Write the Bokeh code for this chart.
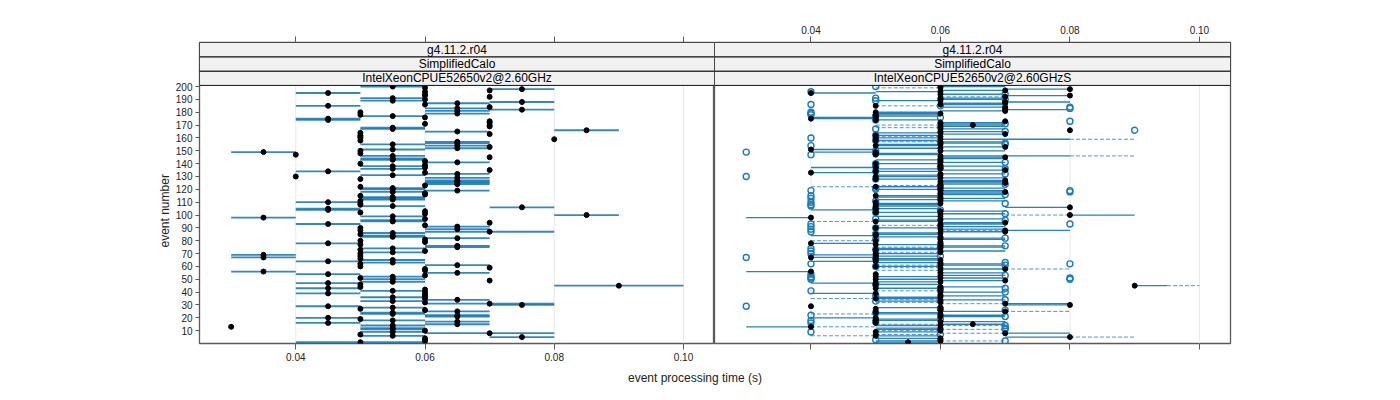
import math
from bokeh.plotting import figure
from bokeh.models import FixedTicker, LinearAxis, Range1d, Title, Div, CustomJSTickFormatter, PrintfTickFormatter
from bokeh.layouts import row, column
from bokeh.embed import file_html
from bokeh.resources import INLINE
from bokeh.core.properties import value

# ---------------- data ----------------
events = list(range(1, 201))

# left panel: mean (point) and min..max (line), in ms
left_mean_ms = [50,60,60,60,75,55,50,70,55,60, 55,55,30,55,65,45,65,55,50,45,
                65,65,55,55,65,60,50,55,45,75, 70,60,55,65,60,55,60,60,45,60,
                55,60,45,50,90,50,45,55,70,55, 50,55,60,45,65,35,60,60,70,50,
                65,50,55,45,55,50,35,50,35,50, 55,60,50,55,65,65,50,45,60,50,
                60,65,55,55,50,55,70,50,65,50, 65,60,45,70,55,55,60,35,55,85,
                60,50,60,45,45,75,55,50,50,45, 50,55,55,55,50,60,60,55,65,55,
                55,50,60,65,65,65,65,50,65,40, 55,65,60,45,70,55,60,55,60,50,
                65,60,55,55,70,55,40,50,35,50, 55,65,70,65,55,65,65,50,80,50,
                50,50,70,50,65,85,55,55,70,70, 60,70,70,45,45,60,55,50,65,50,
                65,75,65,70,45,60,65,75,55,60, 55,70,60,60,45,60,70,75,60,55]
left_lo_ms = [40,60,60,60,70,50,50,60,50,60, 50,50,30,50,60,40,60,50,50,40,
              60,60,50,50,60,60,50,50,40,70, 60,60,50,60,60,50,60,60,40,60,
              50,60,40,50,80,50,40,50,70,50, 50,50,60,40,60,30,60,60,70,50,
              60,50,50,40,50,50,30,50,30,50, 50,60,50,50,60,60,50,40,60,50,
              60,60,50,50,50,50,60,50,60,50, 60,60,40,70,50,50,60,30,50,80,
              60,50,60,40,40,70,50,50,50,40, 50,50,50,50,50,60,60,50,60,50,
              50,50,60,60,60,60,60,50,60,40, 50,60,60,40,70,50,60,50,60,50,
              60,60,50,50,70,50,40,50,30,50, 50,60,70,60,50,60,60,50,80,50,
              50,50,70,50,60,80,50,50,70,70, 60,70,70,40,40,60,50,50,60,50,
              60,70,60,70,40,60,60,70,50,60, 50,70,60,60,40,60,70,70,60,50]
left_hi_ms = [60,60,60,60,80,60,50,80,60,60, 60,60,30,60,70,50,70,60,50,50,
              70,70,60,60,70,60,50,60,50,80, 80,60,60,70,60,60,60,60,50,60,
              60,60,50,50,100,50,50,60,70,60, 50,60,60,50,70,40,60,60,70,50,
              70,50,60,50,60,50,40,50,40,50, 60,60,50,60,70,70,50,50,60,50,
              60,70,60,60,50,60,80,50,70,50, 70,60,50,70,60,60,60,40,60,90,
              60,50,60,50,50,80,60,50,50,50, 50,60,60,60,50,60,60,60,70,60,
              60,50,60,70,70,70,70,50,70,40, 60,70,60,50,70,60,60,60,60,50,
              70,60,60,60,70,60,40,50,40,50, 60,70,70,70,60,70,70,50,80,50,
              50,50,70,50,70,90,60,60,70,70, 60,70,70,50,50,60,60,50,70,50,
              70,80,70,70,50,60,70,80,60,60, 60,70,60,60,50,60,70,80,60,60]

# right panel: median (point), box q1..q3 (solid), whiskers lo..hi (dashed), other runs (open)
right_med_ms = [55,60,60,60,80,50,50,70,50,60, 60,60,40,60,65,50,60,50,50,50,
                60,60,60,50,70,60,50,60,40,80, 70,60,60,60,50,60,60,60,50,60,
                60,60,50,60,90,50,50,60,70,50, 60,50,60,50,60,40,60,70,60,50,
                60,60,60,50,60,50,40,50,50,50, 60,60,50,60,60,60,50,40,60,50,
                60,60,60,50,50,60,70,70,60,50, 60,60,60,70,50,60,60,40,60,80,
                60,50,60,50,50,80,50,50,60,50, 60,60,60,60,50,60,60,70,60,60,
                60,50,60,60,70,60,70,50,60,50, 60,60,40,50,70,60,50,60,60,50,
                60,60,60,60,70,60,50,50,50,60, 40,60,70,50,60,60,60,50,60,50,
                60,50,70,60,60,80,60,60,60,65, 60,60,70,50,40,50,50,50,60,50,
                70,70,70,70,50,60,70,70,60,60, 60,70,80,60,40,60,70,80,60,60]
right_q1_ms = [50,50,60,50,70,50,50,70,50,60, 50,50,30,50,60,50,60,50,50,40,
               60,60,50,50,60,60,50,50,40,70, 70,60,50,60,50,50,60,60,40,60,
               60,60,50,60,90,50,40,50,60,50, 60,50,60,50,60,30,60,60,60,50,
               60,60,50,40,50,50,40,50,40,50, 60,60,50,50,60,60,50,40,60,50,
               60,60,50,40,50,50,60,70,60,50, 60,60,60,60,50,50,60,30,50,80,
               60,50,60,40,50,70,50,50,50,50, 60,50,60,50,50,60,60,60,60,50,
               60,50,60,60,60,60,60,50,60,50, 50,60,40,50,60,50,40,60,60,50,
               60,60,50,60,60,60,50,50,40,60, 40,50,60,50,50,60,60,50,60,50,
               60,50,60,50,60,80,60,60,60,60, 60,60,70,50,40,40,50,50,50,50,
               60,70,70,60,50,60,60,70,50,60, 60,70,70,60,40,50,60,70,60,60]
right_q3_ms = [60,60,60,60,80,60,50,80,60,60, 60,60,40,60,70,50,70,60,60,50,
               70,70,60,60,70,60,50,60,40,80, 80,60,60,70,60,60,70,60,50,70,
               60,60,60,70,95,60,50,60,70,60, 70,60,70,50,70,40,60,70,60,60,
               70,70,60,50,60,60,50,60,50,60, 60,70,60,60,70,70,60,50,60,50,
               70,70,60,50,60,60,70,80,70,60, 70,60,70,70,60,60,70,40,60,90,
               70,60,70,50,60,80,60,60,60,50, 70,60,70,60,60,70,70,70,70,60,
               70,60,60,70,70,70,70,60,70,60, 60,70,50,60,70,60,50,70,60,60,
               70,60,60,70,70,80,60,60,50,70, 50,60,70,60,60,70,70,60,80,60,
               60,60,70,60,70,80,70,60,70,70, 70,70,70,60,50,50,60,60,60,60,
               70,80,70,70,50,70,70,80,60,70, 70,70,80,70,50,60,70,80,60,70]
right_lo_ms = [50,50,60,50,70,40,50,60,50,50, 50,50,30,50,50,50,60,50,50,40,
               60,60,40,50,60,60,50,50,40,70, 60,50,50,50,40,50,60,60,40,60,
               50,60,50,60,90,50,40,50,60,50, 60,50,60,50,60,30,50,60,50,50,
               50,60,50,40,50,50,40,50,40,50, 50,60,50,50,50,60,50,40,60,40,
               60,60,50,40,50,50,60,60,60,50, 60,50,60,60,40,50,60,30,50,70,
               60,50,60,40,50,70,50,50,50,50, 60,50,60,50,50,60,60,60,60,50,
               60,40,50,60,60,60,60,50,60,50, 50,60,40,50,60,50,40,60,60,50,
               60,60,50,60,60,60,50,50,40,60, 40,50,60,50,50,60,50,50,60,50,
               50,50,60,50,60,80,60,50,60,50, 60,60,70,50,40,40,50,50,50,50,
               60,70,70,60,50,60,60,70,50,60, 60,60,70,60,40,50,60,70,50,60]
right_hi_ms = [60,70,60,60,90,60,60,80,60,60, 70,60,50,70,70,50,70,60,60,50,
               70,70,60,60,80,60,50,60,40,80, 80,60,60,70,60,60,70,60,50,70,
               60,60,60,70,100,60,50,60,70,60, 70,60,70,50,70,40,60,80,60,60,
               70,70,60,50,60,60,50,60,50,60, 60,70,60,60,70,70,60,50,60,50,
               70,70,60,50,60,60,70,80,70,60, 70,60,70,70,60,60,70,40,60,90,
               70,60,70,50,60,80,60,60,60,50, 70,60,70,60,60,70,70,70,70,60,
               70,60,60,70,70,70,70,60,70,60, 60,70,50,60,70,60,50,70,60,60,
               70,60,60,70,70,90,60,60,50,70, 50,60,70,60,60,70,70,60,90,60,
               60,60,70,60,70,80,70,60,70,70, 70,70,70,60,50,50,60,60,60,60,
               70,80,70,70,60,70,70,80,60,70, 70,70,80,70,50,60,70,80,60,70]
right_out_event = [9,16,18,22,26,29,41,50,50,51,51,52,54,62,62,67,70,72,74,87,89,91,93,93,
                   107,108,110,113,115,118,119,119,130,147,149,154,160,166,173,178,179,180,
                   183,184,186,196,
                   17,37,81,97,111,121,138,150,167,191,200,
                   3,24,33,46,60,66,73,85,90,102,105,120,128,134,140,148,158,162,174,177,189,
                   12,43,63,96,109,136,155,
                   2,11,14,21,34,40,53,61,76,82,101,116,124,132,141,156,165,171,190,194,
                   7,19,27,43,68,77,104,122,137,176,185]
right_out_ms = [40,40,40,40,70,30,40,40,80,40,80,40,40,40,80,30,40,40,40,40,40,40,40,80,
                40,40,40,40,40,80,40,80,30,40,30,40,40,90,80,40,40,40,
                80,80,40,40,
                50,50,50,50,50,50,50,50,50,50,50,
                50,50,50,50,50,50,50,50,50,50,50,50,50,50,50,50,50,50,50,50,50,
                70,70,70,70,70,70,70,
                70,70,70,70,70,70,70,70,70,70,70,70,70,70,70,70,70,70,70,70,
                60,60,60,60,60,60,60,60,60,60,60]

strip_rows = ["IntelXeonCPUE52650v2@2.60GHz", "SimplifiedCalo", "g4.11.2.r04"]
strip_rows_right = ["IntelXeonCPUE52650v2@2.60GHzS", "SimplifiedCalo", "g4.11.2.r04"]
x_ticks = [0.04, 0.06, 0.08, 0.10]
y_ticks = list(range(10, 201, 10))

# ---------------- styling ----------------
FONT = "Liberation Sans"
X0, X1 = 0.0251, 0.1048
Y_DATA_TOP = 200.9
Y_TOP = 234.3
STRIP_H = (Y_TOP - Y_DATA_TOP) / 3
LINE_COL = "#0e73b5"
DASH_COL = "#4a98d0"
FRAME_COL = "#5a5a5a"
FIG_H = 368

def ms(v):
    return [a / 1000.0 for a in v]

def base_figure(width, bl, br):
    p = figure(width=width, height=FIG_H, x_range=Range1d(X0, X1), y_range=Range1d(0, Y_TOP),
               output_backend="svg", toolbar_location=None,
               min_border_left=bl, min_border_right=br, min_border_top=42,
               min_border_bottom=FIG_H - 343,
               x_axis_location=None, y_axis_location=None)
    p.outline_line_color = FRAME_COL
    p.outline_line_width = 1.3
    p.background_fill_color = "white"
    p.border_fill_color = "white"
    p.ygrid.grid_line_color = None
    p.xgrid.grid_line_color = None
    return p

def style_axis(ax, labels=True):
    ax.ticker = FixedTicker(ticks=x_ticks)
    ax.axis_line_color = None
    ax.major_tick_line_color = FRAME_COL
    ax.major_tick_out = 6
    ax.major_tick_in = 0
    ax.minor_tick_line_color = None
    ax.major_label_text_font = FONT
    ax.major_label_text_font_size = "10px"
    ax.major_label_text_color = "#222222"
    ax.major_label_standoff = 3
    if labels:
        ax.formatter = PrintfTickFormatter(format="%.2f")
    else:
        ax.formatter = CustomJSTickFormatter(code="return ''")

def add_grid(p):
    p.segment(x0=x_ticks, x1=x_ticks, y0=[0] * 4, y1=[Y_DATA_TOP] * 4,
              line_color="#e8e8e8", line_width=1, level="underlay")

def add_strips(p, texts):
    bottoms = [Y_DATA_TOP + i * STRIP_H for i in range(3)]
    tops = [b + STRIP_H for b in bottoms]
    p.quad(left=X0, right=X1, bottom=bottoms, top=tops,
           fill_color="#f1f1f1", line_color="#111111", line_width=1)
    p.text(x=[(X0 + X1) / 2] * 3, y=[b + STRIP_H / 2 for b in bottoms], text=texts,
           text_align="center", text_baseline="middle", text_font=value(FONT),
           text_font_size="12px", text_color="black")

# ---------------- left panel ----------------
pl = base_figure(714, 199, 0)
add_grid(pl)
ax_b = LinearAxis(); style_axis(ax_b, True); pl.add_layout(ax_b, "below")
ax_t = LinearAxis(); style_axis(ax_t, False); pl.add_layout(ax_t, "above")
ay = LinearAxis(ticker=FixedTicker(ticks=y_ticks))
ay.axis_line_color = None
ay.major_tick_line_color = FRAME_COL
ay.major_tick_out = 4
ay.major_tick_in = 0
ay.minor_tick_line_color = None
ay.major_label_text_font = FONT
ay.major_label_text_font_size = "10px"
ay.major_label_text_color = "#222222"
ay.major_label_standoff = 3
pl.add_layout(ay, "left")
pl.add_layout(Title(text="event number", align="left", offset=96,
                    text_font=FONT, text_font_size="12px", text_font_style="normal",
                    text_color="#222222", standoff=2), "left")

lx0, lx1, ly = [], [], []
for e, lo, hi in zip(events, left_lo_ms, left_hi_ms):
    if hi > lo:
        lx0.append(lo / 1000); lx1.append(hi / 1000); ly.append(e)
pl.segment(x0=lx0, x1=lx1, y0=ly, y1=ly, line_color=LINE_COL, line_width=1.8, line_alpha=0.85)
pl.scatter(x=ms(left_mean_ms), y=events, size=5, fill_color="black", line_color="black")
add_strips(pl, strip_rows)

# ---------------- right panel ----------------
pr = base_figure(686, 0, 170)
add_grid(pr)
bx_t = LinearAxis(); style_axis(bx_t, True); pr.add_layout(bx_t, "above")
bx_b = LinearAxis(); style_axis(bx_b, False); pr.add_layout(bx_b, "below")

sx0, sx1, sy = [], [], []
dx0, dx1, dy = [], [], []
for e, q1, q3, lo, hi in zip(events, right_q1_ms, right_q3_ms, right_lo_ms, right_hi_ms):
    if q3 > q1:
        sx0.append(q1 / 1000); sx1.append(q3 / 1000); sy.append(e)
    if q1 > lo:
        dx0.append(lo / 1000); dx1.append(q1 / 1000); dy.append(e)
    if hi > q3:
        dx0.append(q3 / 1000); dx1.append(hi / 1000); dy.append(e)
pr.segment(x0=dx0, x1=dx1, y0=dy, y1=dy, line_color=DASH_COL, line_width=1.0, line_dash="4 2")
pr.segment(x0=sx0, x1=sx1, y0=sy, y1=sy, line_color=LINE_COL, line_width=1.3, line_alpha=0.9)
pr.scatter(x=ms(right_out_ms), y=right_out_event, size=6, fill_color=None,
           line_color="#1a7cc0", line_width=1.4)
pr.scatter(x=ms(right_med_ms), y=events, size=5, fill_color="black", line_color="black")
add_strips(pr, strip_rows_right)

xlabel = Div(text="event processing time (s)", width=1380, height=22,
             styles={"text-align": "center", "font-family": FONT, "font-size": "12px",
                     "color": "#222222", "line-height": "14px", "margin-top": "3px"})

layout = column(row(pl, pr, spacing=0), xlabel, spacing=0)
open("out.html", "w").write(file_html(layout, INLINE))
